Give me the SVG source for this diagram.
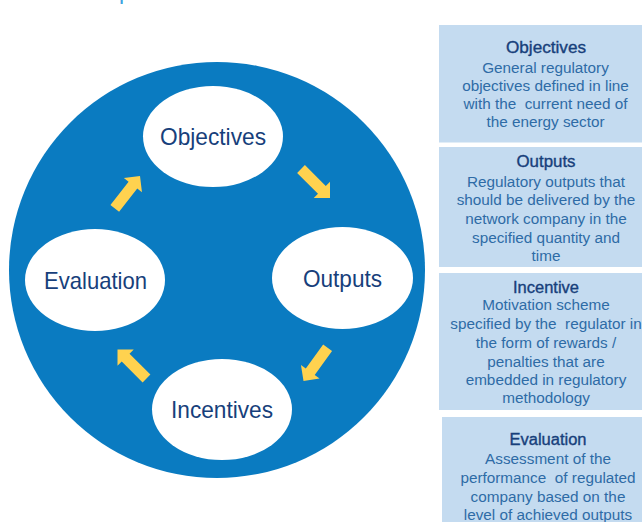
<svg xmlns="http://www.w3.org/2000/svg" width="642" height="522" viewBox="0 0 642 522">
  <style>
    .bg { fill: #ffffff; }
    .disc { fill: #0A7BC1; }
    .node { fill: #ffffff; }
    .node-label { font-family: "Liberation Sans", Arial, sans-serif; font-size: 24px; fill: #173F7B; text-anchor: middle; }
    .arrow { fill: #FFD24F; }
    .panel { fill: #C4DBF0; }
    .panel-title { font-family: "Liberation Sans", Arial, sans-serif; font-size: 16px; fill: #173F7B; stroke: #173F7B; stroke-width: 0.35; text-anchor: middle; }
    .panel-body { font-family: "Liberation Sans", Arial, sans-serif; font-size: 15.3px; fill: #2E6BA6; text-anchor: middle; }
    .heading { font-family: "Liberation Sans", Arial, sans-serif; font-size: 23px; fill: #3FA3E0; }
  </style>
  <defs>
    <!-- block arrow pointing along +x, tip at the origin -->
    <path id="blockArrow" d="M0,0 L-11.5,-11.5 L-11.5,-5.5 L-41,-5.5 L-41,5.5 L-11.5,5.5 L-11.5,11.5 Z"/>
  </defs>

  <rect class="bg" x="0" y="0" width="642" height="522"/>

  <!-- heading, mostly above the top edge -->
  <text class="heading" x="119" y="-1">process</text>

  <!-- cycle background -->
  <circle class="disc" cx="217" cy="270" r="208"/>

  <g id="connectors">
    <use href="#blockArrow" class="arrow" transform="translate(330,198) rotate(45)"/>
    <use href="#blockArrow" class="arrow" transform="translate(303.5,381) rotate(126)"/>
    <use href="#blockArrow" class="arrow" transform="translate(117.5,349.5) rotate(225)"/>
    <use href="#blockArrow" class="arrow" transform="translate(140,176) rotate(-52)"/>
  </g>

  <g id="node-objectives">
    <ellipse class="node" cx="213" cy="136.5" rx="70" ry="50.5"/>
    <text class="node-label" x="213" y="145" textLength="106" lengthAdjust="spacingAndGlyphs">Objectives</text>
  </g>
  <g id="node-outputs">
    <ellipse class="node" cx="342.5" cy="278" rx="70.5" ry="51"/>
    <text class="node-label" x="342.5" y="287" textLength="79" lengthAdjust="spacingAndGlyphs">Outputs</text>
  </g>
  <g id="node-incentives">
    <ellipse class="node" cx="222" cy="409.5" rx="70" ry="50.5"/>
    <text class="node-label" x="222" y="418" textLength="102" lengthAdjust="spacingAndGlyphs">Incentives</text>
  </g>
  <g id="node-evaluation">
    <ellipse class="node" cx="95" cy="280" rx="70" ry="51"/>
    <text class="node-label" x="95.5" y="289" textLength="103" lengthAdjust="spacingAndGlyphs">Evaluation</text>
  </g>

  <!-- description panels -->
  <g id="panel-objectives">
    <rect class="panel" x="439" y="25" width="210" height="117.5"/>
    <text class="panel-title" x="546" y="53" textLength="80" lengthAdjust="spacingAndGlyphs">Objectives</text>
    <text class="panel-body" x="545.5" y="72.5">General regulatory</text>
    <text class="panel-body" x="545.5" y="90.8">objectives defined in line</text>
    <text class="panel-body" x="545.5" y="109.2" xml:space="preserve">with the  current need of</text>
    <text class="panel-body" x="545.5" y="127.4">the energy sector</text>
  </g>
  <g id="panel-outputs">
    <rect class="panel" x="439" y="147" width="210" height="120"/>
    <text class="panel-title" x="546" y="166.5" textLength="59" lengthAdjust="spacingAndGlyphs">Outputs</text>
    <text class="panel-body" x="546" y="186.5">Regulatory outputs that</text>
    <text class="panel-body" x="546" y="205">should be delivered by the</text>
    <text class="panel-body" x="546" y="223.8">network company in the</text>
    <text class="panel-body" x="546" y="242.5">specified quantity and</text>
    <text class="panel-body" x="546" y="260.8">time</text>
  </g>
  <g id="panel-incentive">
    <rect class="panel" x="439" y="273" width="210" height="137"/>
    <text class="panel-title" x="546" y="292.5" textLength="66" lengthAdjust="spacingAndGlyphs">Incentive</text>
    <text class="panel-body" x="546" y="310.2">Motivation scheme</text>
    <text class="panel-body" x="546" y="329" xml:space="preserve">specified by the  regulator in</text>
    <text class="panel-body" x="546" y="347.7">the form of rewards /</text>
    <text class="panel-body" x="546" y="366.5">penalties that are</text>
    <text class="panel-body" x="546" y="385">embedded in regulatory</text>
    <text class="panel-body" x="546" y="403.4">methodology</text>
  </g>
  <g id="panel-evaluation">
    <rect class="panel" x="442" y="417" width="210" height="110"/>
    <text class="panel-title" x="548" y="445" textLength="77" lengthAdjust="spacingAndGlyphs">Evaluation</text>
    <text class="panel-body" x="548" y="464.3">Assessment of the</text>
    <text class="panel-body" x="548" y="483.2" xml:space="preserve">performance  of regulated</text>
    <text class="panel-body" x="548" y="501.5">company based on the</text>
    <text class="panel-body" x="548" y="520">level of achieved outputs</text>
  </g>
</svg>
